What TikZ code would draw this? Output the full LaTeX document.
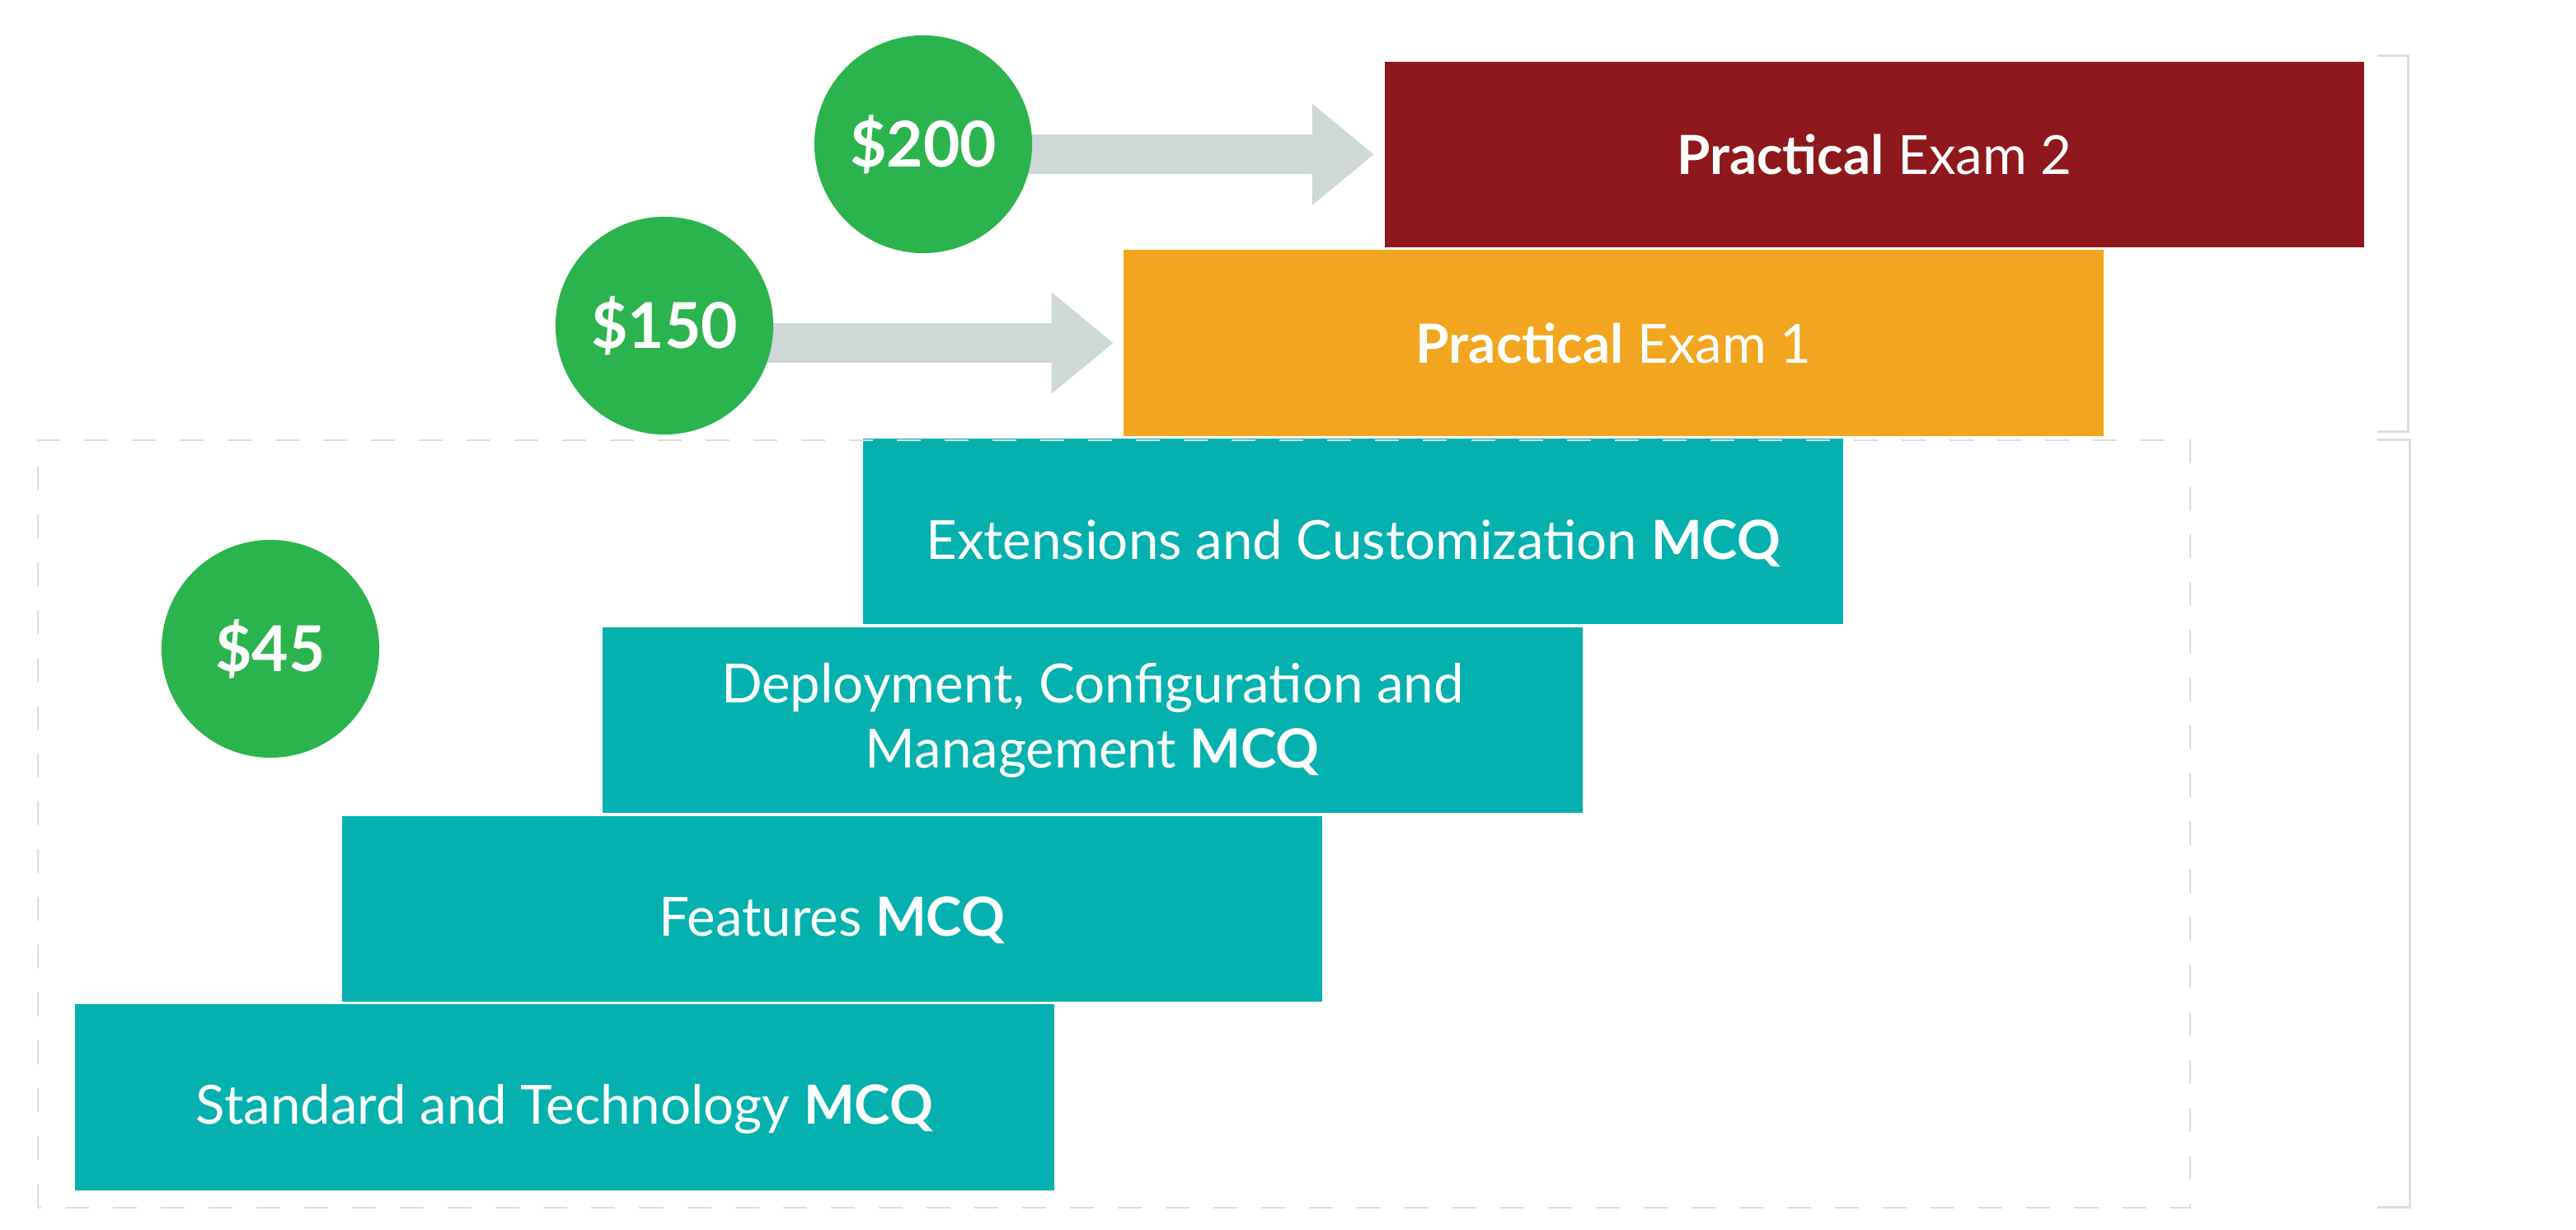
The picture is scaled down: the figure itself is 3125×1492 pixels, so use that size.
\documentclass[tikz,border=0pt]{standalone}
\usepackage{fontspec}
\setmainfont{Lato}
\usepackage{tikz}
\usetikzlibrary{arrows.meta,backgrounds,positioning}

\definecolor{pricegreen}{RGB}{43,180,77}
\definecolor{mcqteal}{RGB}{4,177,175}
\definecolor{examorange}{RGB}{242,166,31}
\definecolor{examred}{RGB}{142,24,27}
\definecolor{arrowgray}{RGB}{206,216,214}
\definecolor{framegray}{RGB}{221,221,221}

\begin{document}
\begin{tikzpicture}[x=0.01cm, y=0.01cm, node distance = 2.286cm and 3.16cm,
  tier/.style = {fill=#1, text=white, minimum width=11.88cm, minimum height=2.25cm,
    inner sep=0pt, align=center, font=\fontsize{18.6}{22.5}\selectfont},
  mcq/.style = {tier=mcqteal, execute at begin node=\rule{0pt}{0.76cm}},
  price/.style = {circle, fill=pricegreen, text=white, minimum size=2.64cm,
    inner sep=0pt, font=\fontsize{21.8}{26}\selectfont\bfseries},
  feearrow/.style = {draw=arrowgray, line width=0.48cm,
    -{Triangle[length=0.75cm, width=1.18cm]}, shorten >=0.12cm},
  bracket/.style = {draw=framegray, line width=0.03cm}]
  \useasboundingbox (0,0) rectangle (3125,1492);

  \node[mcq] (std) at (685,161) {Standard and Technology \textbf{MCQ}};
  \node[mcq, on grid, above right = 2.286cm and 3.24cm of std] (feat) {Features \textbf{MCQ}};
  \node[mcq, on grid, above right = of feat] (depl) {Deployment, Configuration and\\Management \textbf{MCQ}};
  \node[mcq, on grid, above right = of depl] (ext) {Extensions and Customization \textbf{MCQ}};
  \node[tier=examorange, on grid, above right = of ext] (exam1) {\textbf{Practical} Exam 1};
  \node[tier=examred, on grid, above right = of exam1] (exam2) {\textbf{Practical} Exam 2};

  \node[price] (p45) at (328,705) {\$45};
  \node[price] (p150) at (806,1097) {\$150};
  \node[price] (p200) at (1120,1317) {\$200};

  \begin{scope}[on background layer]
    \draw[feearrow] (p150.center |- exam1.west) -- (exam1.west);
    \draw[feearrow] (p200.center |- exam2.west) -- (exam2.west);
  \end{scope}

  \draw[draw=framegray, line width=0.02cm, dash pattern=on 0.29cm off 0.29cm]
    (46,27) rectangle (2657,958);

  \draw[bracket] (2884,1424) -- (2921,1424) -- (2921,968) -- (2884,968);
  \draw[bracket] (2884,958) -- (2923,958) -- (2923,27) -- (2884,27);
\end{tikzpicture}
\end{document}
